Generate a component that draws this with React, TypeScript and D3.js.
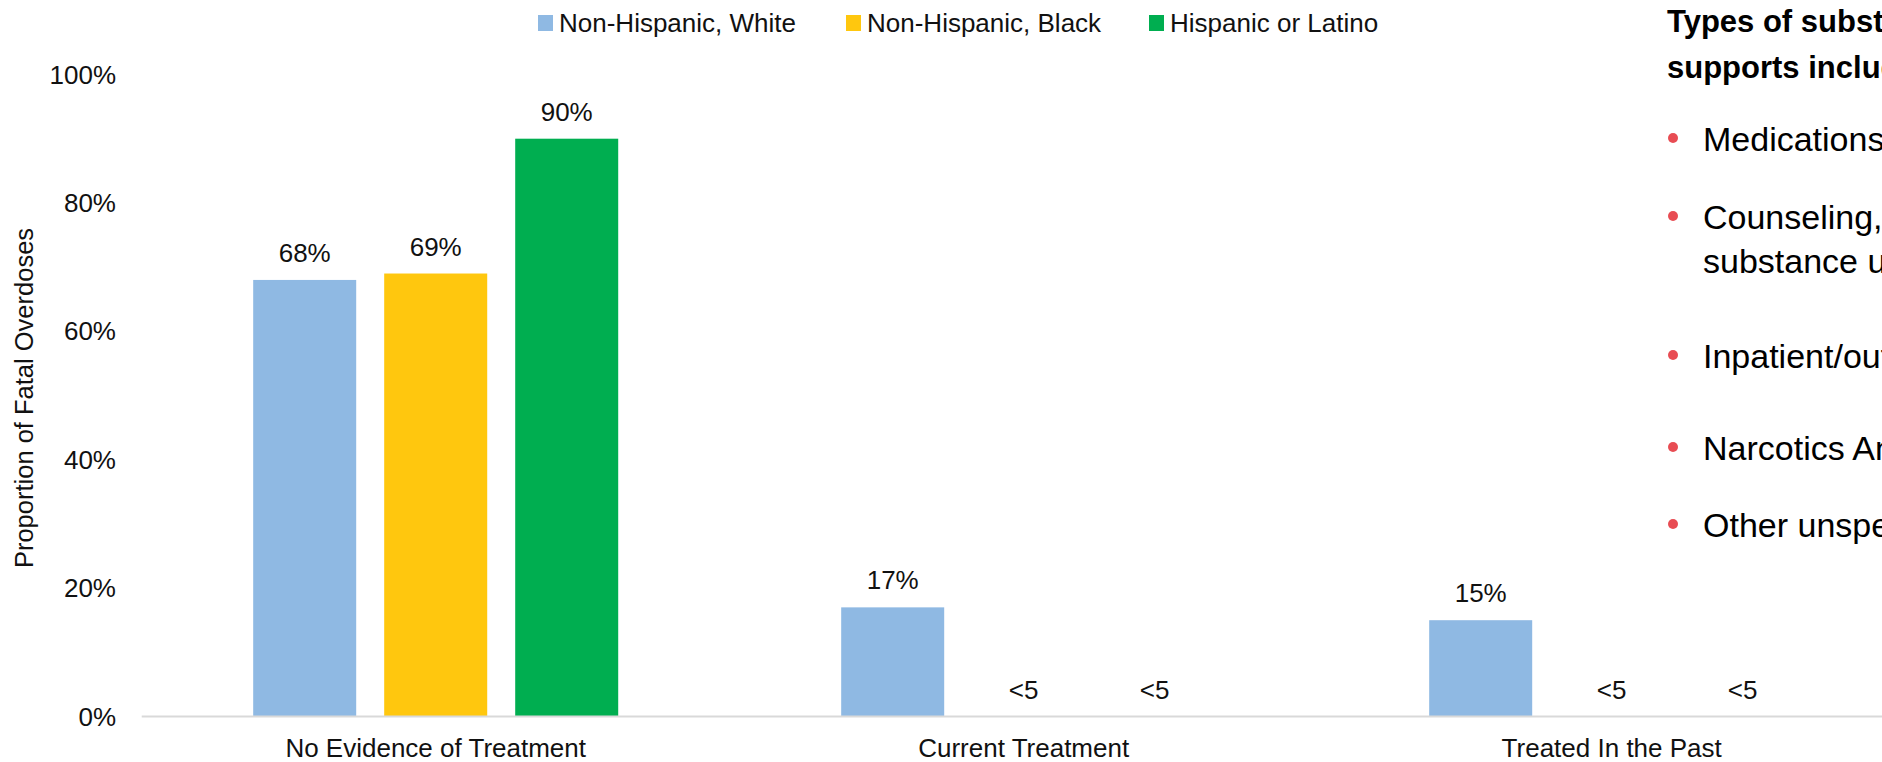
import React from "react";
import * as d3 from "d3";

const categories = ["No Evidence of Treatment", "Current Treatment", "Treated In the Past"];
const seriesNames = ["Non-Hispanic, White", "Non-Hispanic, Black", "Hispanic or Latino"];
const whiteValues: (number | null)[] = [0.68, 0.17, 0.15];
const blackValues: (number | null)[] = [0.69, null, null];
const hispanicValues: (number | null)[] = [0.9, null, null];
const suppressedLabel = "<5";
const yTicks = [0, 0.2, 0.4, 0.6, 0.8, 1.0];
const yAxisTitle = "Proportion of Fatal Overdoses";
const panelHeading = ["Types of substance use treatment and", "supports include:"];
const bulletLines: { text: string; bullet: boolean }[] = [
  { text: "Medications for opioid use disorder", bullet: true },
  { text: "Counseling, therapy, or support for", bullet: true },
  { text: "substance use", bullet: false },
  { text: "Inpatient/outpatient treatment", bullet: true },
  { text: "Narcotics Anonymous", bullet: true },
  { text: "Other unspecified treatment", bullet: true },
];

const colors = ["#8FB9E3", "#FFC70E", "#00AE50"];
const W = 1882;
const H = 762;
const FONT = "'Liberation Sans', Arial, sans-serif";

export default function App() {
  const seriesValues = [whiteValues, blackValues, hispanicValues];
  const plotLeft = 141.7;
  const step = 588;
  const x0 = d3
    .scaleBand<string>()
    .domain(categories)
    .range([plotLeft, plotLeft + step * categories.length])
    .padding(0);
  const x1 = d3
    .scaleBand<string>()
    .domain(seriesNames)
    .range([0, x0.bandwidth()])
    .paddingInner(0.2137)
    .paddingOuter(0.851);
  const y = d3.scaleLinear().domain([0, 1]).range([716.5, 74.5]);
  const fmt = d3.format(".0%");

  const legendX = [538, 846, 1149];
  const bulletBaselines = [151, 229, 273, 368, 460, 537];

  return (
    <svg
      width={W}
      height={H}
      style={{ position: "absolute", left: 0, top: 0, background: "#fff" }}
      fontFamily={FONT}
    >
      <rect x={0} y={0} width={W} height={H} fill="#fff" />
      {/* legend */}
      {seriesNames.map((s, i) => (
        <g key={s}>
          <rect x={legendX[i]} y={15} width={15} height={16} fill={colors[i]} />
          <text x={legendX[i] + 21} y={23} dy="0.35em" fontSize={26} fill="#111">
            {s}
          </text>
        </g>
      ))}
      {/* y ticks */}
      {yTicks.map((t) => (
        <text key={t} x={116} y={y(t)} dy="0.35em" textAnchor="end" fontSize={26} fill="#111">
          {fmt(t)}
        </text>
      ))}
      <text
        transform={`translate(24,398) rotate(-90)`}
        textAnchor="middle"
        dy="0.35em"
        fontSize={25.5}
        fill="#111"
      >
        {yAxisTitle}
      </text>
      {/* bars */}
      {categories.map((c, ci) => (
        <g key={c} transform={`translate(${x0(c)},0)`}>
          {seriesNames.map((s, si) => {
            const v = seriesValues[si][ci];
            const bx = x1(s)!;
            const val = v ?? 0;
            return (
              <g key={s}>
                {v !== null && (
                  <rect x={bx} y={y(val)} width={x1.bandwidth()} height={y(0) - y(val)} fill={colors[si]} />
                )}
                <text
                  x={bx + x1.bandwidth() / 2}
                  y={y(val) - 18}
                  textAnchor="middle"
                  fontSize={26}
                  fill="#111"
                >
                  {v !== null ? fmt(v) : suppressedLabel}
                </text>
              </g>
            );
          })}
          <text x={x0.bandwidth() / 2} y={757} textAnchor="middle" fontSize={26} fill="#111">
            {c}
          </text>
        </g>
      ))}
      {/* axis line */}
      <line x1={plotLeft} x2={W} y1={716.5} y2={716.5} stroke="#D9D9D9" strokeWidth={2} />
      {/* right panel */}
      {panelHeading.map((t, i) => (
        <text key={t} x={1667} y={32 + i * 46} fontSize={31} fontWeight="bold" fill="#000">
          {t}
        </text>
      ))}
      {bulletLines.map((b, i) => (
        <g key={b.text}>
          {b.bullet && <circle cx={1673} cy={bulletBaselines[i] - 13} r={5} fill="#E84C53" />}
          <text x={1703} y={bulletBaselines[i]} fontSize={34} fill="#000">
            {b.text}
          </text>
        </g>
      ))}
    </svg>
  );
}
